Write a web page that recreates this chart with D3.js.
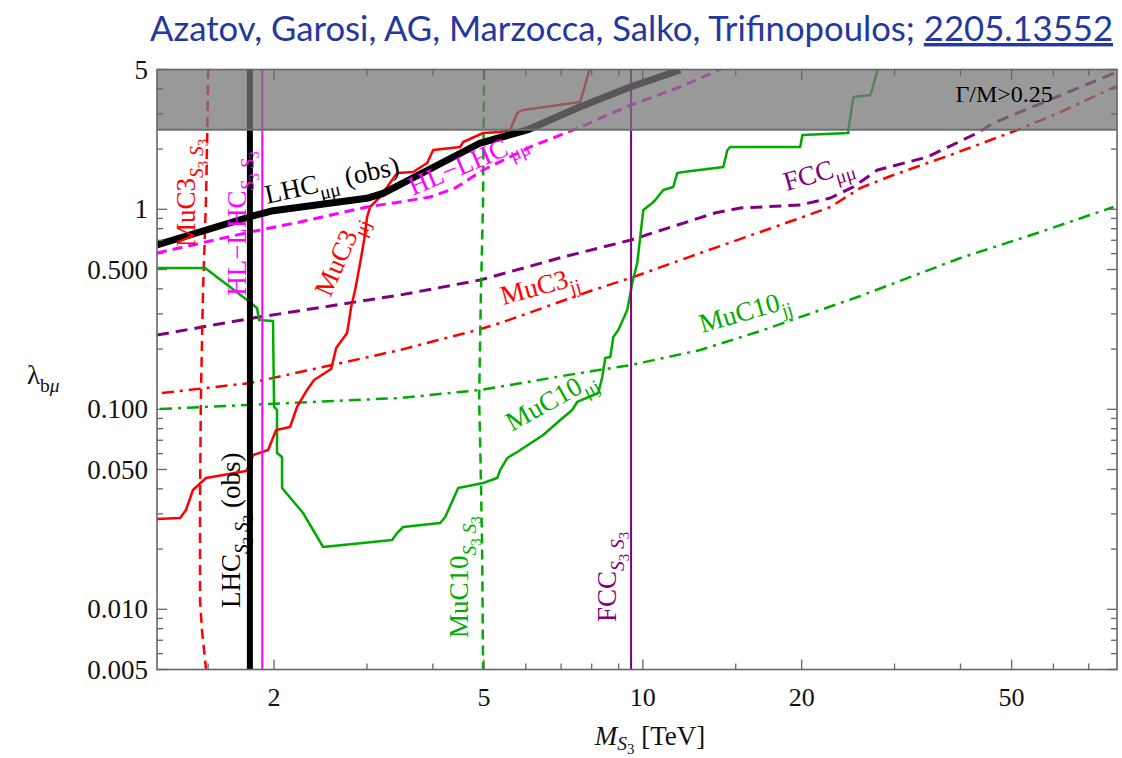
<!DOCTYPE html>
<html><head><meta charset="utf-8">
<script src="https://cdn.jsdelivr.net/npm/d3@7"></script>
<style>body{margin:0;background:#fff;} svg{display:block;} text{white-space:pre;}</style>
</head><body><svg id="c" width="1122" height="758"></svg>
<script>
// ---------------- data ----------------
const xDomain = [1.2, 79.2];
const yDomain = [0.005, 5];
const xTicksMajor = [2, 5, 10, 20, 50];
const xTickLabels = ["2", "5", "10", "20", "50"];
const xTicksMinor = [1.5, 3, 4, 6, 7, 8, 9, 15, 30, 40, 60, 70];
const yTicksMajor = [0.005, 0.01, 0.05, 0.1, 0.5, 1, 5];
const yTickLabels = ["0.005", "0.010", "0.050", "0.100", "0.500", "1", "5"];
const yTicksMinor = [0.006, 0.007, 0.008, 0.009, 0.02, 0.03, 0.04, 0.06, 0.07, 0.08, 0.09,
                     0.2, 0.3, 0.4, 0.6, 0.7, 0.8, 0.9, 2, 3, 4];
const widthBand = [2.5, 5];   // Gamma/M > 0.25 region

// vertical pair-production bounds (TeV)
const lhcS3S3 = 1.8;
const hllhcS3S3 = 1.9;
const fccS3S3 = 9.5;
const muc3S3S3X = [1.50, 1.495, 1.486, 1.467, 1.453, 1.448, 1.448, 1.460, 1.486];
const muc3S3S3Y = [5.03, 2.49, 1.113, 0.395, 0.111, 0.0352, 0.01113, 0.00788, 0.00503];
const muc10S3S3X = [5.00, 4.98, 4.93, 4.895, 4.92, 4.96, 4.98];
const muc10S3S3Y = [5.0, 1.11, 0.35, 0.111, 0.063, 0.02, 0.005];

// LHC mu mu (obs)
const lhcMuMuX = [1.2, 1.801, 1.992, 2.998, 3.219, 4.917, 6.037, 7.609, 9.495, 11.77];
const lhcMuMuY = [0.663, 0.918, 0.984, 1.135, 1.202, 2.145, 2.492, 3.258, 4.10, 4.97];
// HL-LHC mu mu
const hllhcMuMuX = [1.2, 1.801, 2.240, 3.002, 3.467, 3.953, 4.409, 4.982, 6.115, 7.380, 9.495, 11.77, 14.21];
const hllhcMuMuY = [0.605, 0.770, 0.864, 1.027, 1.088, 1.152, 1.278, 1.572, 2.049, 2.492, 3.323, 4.088, 5.09];
// MuC3 mu j
const muc3MuJX = [1.200, 1.327, 1.362, 1.404, 1.486, 1.770, 1.801, 1.825, 1.949, 2.018, 2.145, 2.211, 2.310,
                  2.382, 2.566, 2.623, 2.751, 2.800, 2.849, 2.912, 2.963, 3.002, 3.042, 3.177, 3.422, 3.669,
                  3.902, 4.005, 4.506, 4.565, 4.982, 5.366, 5.606, 5.780, 5.933, 7.609, 7.949];
const muc3MuJY = [0.02828, 0.02861, 0.03137, 0.03949, 0.04534, 0.04914, 0.05326, 0.05906, 0.06257, 0.07877,
                  0.08154, 0.1027, 0.1249, 0.1401, 0.1590, 0.2025, 0.2406, 0.3247, 0.3949, 0.5388, 0.7024,
                  0.9152, 1.027, 1.152, 1.518, 1.536, 1.704, 1.979, 2.049, 2.170, 2.407, 2.435, 2.492, 3.030,
                  3.137, 3.440, 5.147];
// MuC10 mu j
const muc10MuJX = [1.200, 1.480, 1.778, 1.857, 1.873, 1.991, 2.000, 2.026, 2.026, 2.071, 2.071, 2.270, 2.477,
                   3.348, 3.422, 3.513, 4.130, 4.221, 4.467, 4.982, 5.296, 5.366, 5.534, 5.780, 6.475, 6.974,
                   7.348, 7.510, 8.232, 8.378, 8.488, 8.677, 8.791, 8.985, 9.343, 9.549, 9.760, 10.02, 10.19,
                   10.42, 10.56, 10.93, 11.42, 11.62, 11.93, 14.21, 14.46, 14.65, 19.88, 20.06, 24.52, 24.52,
                   25.06, 27.00, 27.96];
const muc10MuJY = [0.5085, 0.5085, 0.3520, 0.3209, 0.2795, 0.2763, 0.1027, 0.0992, 0.06043, 0.05771, 0.04041,
                   0.03030, 0.02049, 0.02221, 0.02406, 0.02579, 0.02701, 0.02894, 0.04041, 0.04280, 0.04534,
                   0.04972, 0.05706, 0.06115, 0.07436, 0.08840, 0.0992, 0.1088, 0.1206, 0.1450, 0.1805, 0.1826,
                   0.2298, 0.2491, 0.3136, 0.4281, 0.5388, 0.9920, 1.027, 1.075, 1.113, 1.249, 1.293, 1.518,
                   1.536, 1.627, 1.979, 2.049, 2.049, 2.352, 2.407, 2.492, 3.644, 3.729, 5.147];
// MuC3 jj
const muc3JJX = [1.226, 1.801, 3.467, 4.853, 5.366, 8.054, 9.591, 12.85, 16.70, 19.88, 22.67, 25.84, 29.85, 38.29, 51.30, 61.89, 79.2];
const muc3JJY = [0.1206, 0.1353, 0.1979, 0.2491, 0.2700, 0.3949, 0.4586, 0.6046, 0.7700, 0.9048, 1.027, 1.278, 1.484, 1.868, 2.492, 3.065, 4.136];
// FCC mu mu
const fccMuMuX = [1.2, 1.825, 3.467, 4.917, 7.066, 9.495, 13.69, 15.30, 19.88, 22.67, 25.06, 27.84, 34.63, 43.07, 46.18, 79.2];
const fccMuMuY = [0.2351, 0.2860, 0.3728, 0.4431, 0.5774, 0.7024, 0.9583, 1.015, 1.051, 1.139, 1.293, 1.572, 1.826, 2.407, 2.701, 4.859];
// MuC10 jj
const muc10JJX = [1.216, 3.467, 4.917, 7.609, 9.495, 12.85, 16.70, 25.84, 39.99, 56.71, 78.0];
const muc10JJY = [0.1003, 0.1139, 0.1249, 0.1519, 0.1665, 0.1979, 0.2462, 0.3685, 0.5707, 0.7700, 1.027];

// ---------------- drawing ----------------
const RED = "#ff0000", GREEN = "#00aa00", MAG = "#ff00ff", PUR = "#800080", BLK = "#000000";
const SERIF = "'Liberation Serif','DejaVu Serif',serif";
const svg = d3.select("#c");
const m = {l: 157, r: 1117, t: 69.5, b: 669.5};
const x = d3.scaleLog().domain(xDomain).range([m.l, m.r]);
const y = d3.scaleLog().domain(yDomain).range([m.b, m.t]);

svg.append("defs").append("clipPath").attr("id", "clip")
  .append("rect").attr("x", m.l).attr("y", m.t).attr("width", m.r - m.l).attr("height", m.b - m.t);

const plot = svg.append("g").attr("clip-path", "url(#clip)");
const zip = (a, b) => a.map((v, i) => [v, b[i]]);
const line = d3.line().x(d => x(d[0])).y(d => y(d[1]));

function curve(xs, ys, color, w, dash) {
  plot.append("path").datum(zip(xs, ys)).attr("d", line)
    .attr("fill", "none").attr("stroke", color).attr("stroke-width", w)
    .attr("stroke-dasharray", dash || null).attr("stroke-linejoin", "round");
}
function vline(v, color, w, dash) {
  curve([v, v], yDomain, color, w, dash);
}

curve(muc10JJX, muc10JJY, GREEN, 2.5, "12,6,3,6");
curve(muc3JJX, muc3JJY, RED, 2.5, "12,6,3,6");
curve(fccMuMuX, fccMuMuY, PUR, 3, "12,7");
curve(muc3S3S3X, muc3S3S3Y, RED, 2.5, "10,6");
curve(muc10S3S3X, muc10S3S3Y, GREEN, 2.5, "10,6");
curve(muc10MuJX, muc10MuJY, GREEN, 2.5);
curve(muc3MuJX, muc3MuJY, RED, 2.5);
vline(fccS3S3, PUR, 2);
vline(hllhcS3S3, MAG, 2);
curve(hllhcMuMuX, hllhcMuMuY, MAG, 3, "10,6");
vline(lhcS3S3, BLK, 6);
curve(lhcMuMuX, lhcMuMuY, BLK, 7);

// width band
plot.append("rect").attr("x", m.l).attr("width", m.r - m.l)
  .attr("y", y(widthBand[1])).attr("height", y(widthBand[0]) - y(widthBand[1]))
  .attr("fill", "rgb(118,118,118)").attr("fill-opacity", 0.74);
plot.append("line").attr("x1", m.l).attr("x2", m.r).attr("y1", y(widthBand[0])).attr("y2", y(widthBand[0]))
  .attr("stroke", "#6f6f6f").attr("stroke-width", 2);

// frame + ticks
const AX = "#666";
svg.append("rect").attr("x", m.l).attr("y", m.t).attr("width", m.r - m.l).attr("height", m.b - m.t)
  .attr("fill", "none").attr("stroke", AX).attr("stroke-width", 1.6);
const tg = svg.append("g").attr("stroke", AX).attr("stroke-width", 1.3);
function xt(v, len) {
  tg.append("line").attr("x1", x(v)).attr("x2", x(v)).attr("y1", m.b).attr("y2", m.b - len);
  tg.append("line").attr("x1", x(v)).attr("x2", x(v)).attr("y1", m.t).attr("y2", m.t + len);
}
function yt(v, len) {
  tg.append("line").attr("y1", y(v)).attr("y2", y(v)).attr("x1", m.l).attr("x2", m.l + len);
  tg.append("line").attr("y1", y(v)).attr("y2", y(v)).attr("x1", m.r).attr("x2", m.r - len);
}
xTicksMajor.forEach(v => xt(v, 10));
xTicksMinor.forEach(v => xt(v, 6));
yTicksMajor.forEach(v => yt(v, 10));
yTicksMinor.forEach(v => yt(v, 6));

svg.append("g").selectAll("text").data(xTicksMajor).join("text")
  .attr("x", d => x(d)).attr("y", 706).attr("text-anchor", "middle")
  .attr("font-family", SERIF).attr("font-size", 26).attr("fill", "#111")
  .text((d, i) => xTickLabels[i]);
svg.append("g").selectAll("text").data(yTicksMajor).join("text")
  .attr("x", 148).attr("y", d => y(d) + 9).attr("text-anchor", "end")
  .attr("font-family", SERIF).attr("font-size", 27).attr("fill", "#111")
  .text((d, i) => yTickLabels[i]);

// rich text helper
function rich(sel, parts, fs, k) {
  k = k || 1;
  const off = [0, 0.28 * fs * k, 0.48 * fs * k], sz = [fs, 0.72 * fs, 0.55 * fs];
  let prev = 0;
  parts.forEach(p => {
    const lv = p.l || 0;
    sel.append("tspan").attr("dy", off[lv] - off[prev]).attr("font-size", sz[lv])
      .attr("font-style", p.i ? "italic" : null).text(p.t);
    prev = lv;
  });
}

const S3S3 = [{t: "S", l: 1, i: 1}, {t: "3", l: 2}, {t: " S", l: 1, i: 1}, {t: "3", l: 2}];
const annotations = [
  {parts: [{t: "MuC3"}, ...S3S3], x: 1.417, y: 0.648, rot: -90, c: RED},
  {parts: [{t: "HL\u2212LHC"}, ...S3S3], x: 1.77, y: 0.37, rot: -90, c: MAG},
  {parts: [{t: "LHC"}, {t: "\u03bc\u03bc", l: 1}, {t: " (obs)"}], x: 1.94, y: 1.063, rot: -12.7, c: BLK},
  {parts: [{t: "HL\u2212LHC"}, {t: "\u03bc\u03bc", l: 1}], x: 3.669, y: 1.17, rot: -23, c: MAG},
  {parts: [{t: "MuC3"}, {t: "\u03bcj", l: 1}], x: 2.555, y: 0.36, rot: -66, c: RED},
  {parts: [{t: "MuC3"}, {t: "jj", l: 1}], x: 5.437, y: 0.3323, rot: -15, c: RED},
  {parts: [{t: "MuC10"}, {t: "jj", l: 1}], x: 12.96, y: 0.2407, rot: -16, c: GREEN},
  {parts: [{t: "MuC10"}, {t: "\u03bcj", l: 1}], x: 5.648, y: 0.0773, rot: -29, c: GREEN},
  {parts: [{t: "FCC"}, {t: "\u03bc\u03bc", l: 1}], x: 18.71, y: 1.234, rot: -16, c: PUR},
  {parts: [{t: "LHC"}, ...S3S3, {t: " (obs)"}], x: 1.724, y: 0.01015, rot: -90, c: BLK},
  {parts: [{t: "MuC10"}, ...S3S3], x: 4.667, y: 0.00719, rot: -90, c: GREEN},
  {parts: [{t: "FCC"}, ...S3S3], x: 8.906, y: 0.00864, rot: -90, c: PUR},
  {parts: [{t: "\u0393/M>0.25"}], x: 39.13, y: 3.45, rot: 0, c: BLK, fs: 24}
];
annotations.forEach(a => {
  const t = svg.append("text").attr("font-family", SERIF).attr("fill", a.c)
    .attr("transform", `translate(${x(a.x)},${y(a.y)}) rotate(${a.rot})`);
  rich(t, a.parts, a.fs || 27);
});

// axis labels
const yl = svg.append("text").attr("x", 27).attr("y", 384).attr("font-family", SERIF).attr("fill", "#111");
rich(yl, [{t: "\u03bb"}, {t: "b", l: 1}, {t: "\u03bc", l: 1, i: 1}], 27);
const xl = svg.append("text").attr("x", 650).attr("y", 745).attr("text-anchor", "middle")
  .attr("font-family", SERIF).attr("fill", "#111");
rich(xl, [{t: "M", i: 1}, {t: "S", l: 1, i: 1}, {t: "3", l: 2}, {t: " [TeV]"}], 27, 0.7);

// title
const ttl = svg.append("text").attr("x", 150).attr("y", 41)
  .attr("font-family", "Lato, 'Open Sans', sans-serif").attr("font-size", 34).attr("fill", "#2338a0")
  .attr("textLength", 963).attr("lengthAdjust", "spacingAndGlyphs");
ttl.append("tspan").text("Azatov, Garosi, AG, Marzocca, Salko, Trifinopoulos; ");
ttl.append("tspan").attr("text-decoration", "underline").text("2205.13552");
</script>
</body></html>
